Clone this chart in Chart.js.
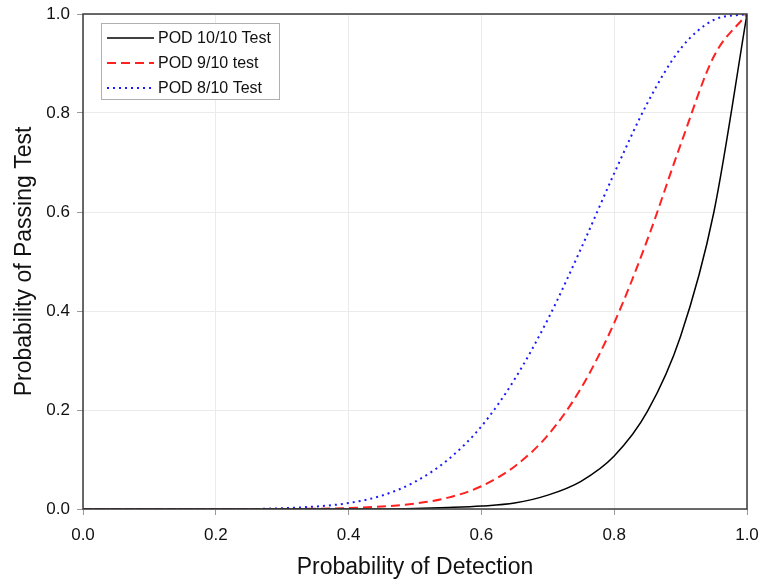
<!DOCTYPE html>
<html>
<head>
<meta charset="utf-8">
<script src="https://cdn.jsdelivr.net/npm/chart.js@4/dist/chart.umd.min.js"></script>
<style>
  html, body { margin: 0; padding: 0; background: #fff; }
  #wrap { width: 761px; height: 581px; }
</style>
</head>
<body>
<div id="wrap"><canvas id="podChart"></canvas></div>
<script>
// probability of detection (x axis)
const pod = [0, 0.05, 0.1, 0.15, 0.2, 0.25, 0.3, 0.35, 0.4, 0.45, 0.5,
             0.55, 0.6, 0.65, 0.7, 0.75, 0.8, 0.85, 0.9, 0.95, 1.0];

// probability of passing
const pass10of10 = [0, 0, 0, 0, 0, 0, 0, 0, 0, 0, 0.001,
                    0.003, 0.006, 0.012, 0.028, 0.056, 0.107, 0.197, 0.349, 0.599, 1.0];
const pass9of10 = [0, 0, 0, 0, 0, 0, 0, 0.0005, 0.002, 0.005, 0.011,
                   0.023, 0.046, 0.086, 0.149, 0.244, 0.376, 0.544, 0.736, 0.914, 1.0];
const pass8of10 = [0, 0, 0, 0, 0, 0, 0.0016, 0.005, 0.012, 0.027, 0.055,
                   0.100, 0.167, 0.262, 0.383, 0.526, 0.678, 0.820, 0.930, 0.988, 1.0];

const seriesLabels = ['POD 10/10 Test', 'POD 9/10 test', 'POD 8/10 Test'];
const tickValues = [0, 0.2, 0.4, 0.6, 0.8, 1.0];

const FONT = "'Liberation Sans', Arial, sans-serif";

function toPoints(ys) {
    return pod.map((x, i) => ({ x: x, y: ys[i] }));
}

// frame around the plot area + legend box in the upper left
const framePlugin = {
    id: 'frame',
    afterDatasetsDraw(chart) {
        const { ctx, chartArea: a } = chart;
        ctx.save();
        ctx.strokeStyle = '#3a3a3a';
        ctx.lineWidth = 1.5;
        ctx.strokeRect(a.left, a.top, a.right - a.left, a.bottom - a.top);

        // legend
        const bx = 101, by = 23, bw = 178, bh = 76;
        ctx.fillStyle = '#fff';
        ctx.fillRect(bx, by, bw, bh);
        ctx.strokeStyle = '#b0b0b0';
        ctx.lineWidth = 1;
        ctx.strokeRect(bx + 0.5, by + 0.5, bw, bh);

        ctx.font = '16px ' + FONT;
        ctx.textBaseline = 'middle';
        chart.data.datasets.forEach((ds, i) => {
            const y = by + 15 + i * 25;
            ctx.beginPath();
            ctx.setLineDash(ds.borderDash || []);
            ctx.strokeStyle = ds.borderColor;
            ctx.lineWidth = ds.borderWidth;
            ctx.moveTo(107, y);
            ctx.lineTo(154, y);
            ctx.stroke();
            ctx.setLineDash([]);
            ctx.fillStyle = '#111';
            ctx.fillText(ds.label, 158, y + 1);
        });
        ctx.restore();
    }
};

const ctx = document.getElementById('podChart').getContext('2d');

const myChart = new Chart(ctx, {
    type: 'line',
    data: {
        datasets: [
            { label: seriesLabels[0], data: toPoints(pass10of10), borderColor: '#000000', borderWidth: 1.5, pointRadius: 0, fill: false, cubicInterpolationMode: 'monotone' },
            { label: seriesLabels[1], data: toPoints(pass9of10), borderColor: '#ff2020', borderWidth: 2, borderDash: [9, 5], pointRadius: 0, fill: false, cubicInterpolationMode: 'monotone' },
            { label: seriesLabels[2], data: toPoints(pass8of10), borderColor: '#1a1aff', borderWidth: 2, borderDash: [2, 4], pointRadius: 0, fill: false, cubicInterpolationMode: 'monotone' }
        ]
    },
    options: {
        responsive: true,
        maintainAspectRatio: false,
        animation: false,
        layout: { padding: { top: 14, right: 14, left: 0, bottom: 0 } },
        plugins: {
            legend: { display: false },
            tooltip: { enabled: false }
        },
        scales: {
            x: {
                type: 'linear',
                min: 0,
                max: 1,
                afterBuildTicks: scale => { scale.ticks = tickValues.map(v => ({ value: v })); },
                afterFit: scale => { scale.height = 72; scale.paddingRight = 0; scale.paddingLeft = 0; },
                border: { display: false },
                grid: { color: '#ebebeb', tickColor: '#999', tickLength: 6 },
                ticks: {
                    color: '#111',
                    padding: 10,
                    font: { family: FONT, size: 17 },
                    callback: v => v.toFixed(1)
                },
                title: {
                    display: true,
                    text: 'Probability of Detection',
                    color: '#111',
                    font: { family: FONT, size: 23 },
                    padding: { top: 2, bottom: 0 }
                }
            },
            y: {
                min: 0,
                max: 1,
                afterBuildTicks: scale => { scale.ticks = tickValues.map(v => ({ value: v })); },
                afterFit: scale => { scale.width = 83; scale.paddingTop = 0; scale.paddingBottom = 0; },
                border: { display: false },
                grid: { color: '#ebebeb', tickColor: '#999', tickLength: 6 },
                ticks: {
                    color: '#111',
                    padding: 7,
                    font: { family: FONT, size: 17 },
                    callback: v => v.toFixed(1)
                },
                title: {
                    display: true,
                    text: 'Probability of Passing Test',
                    color: '#111',
                    font: { family: FONT, size: 23 },
                    padding: { top: 11, bottom: 0 }
                }
            }
        }
    },
    plugins: [framePlugin]
});
</script>
</body>
</html>
